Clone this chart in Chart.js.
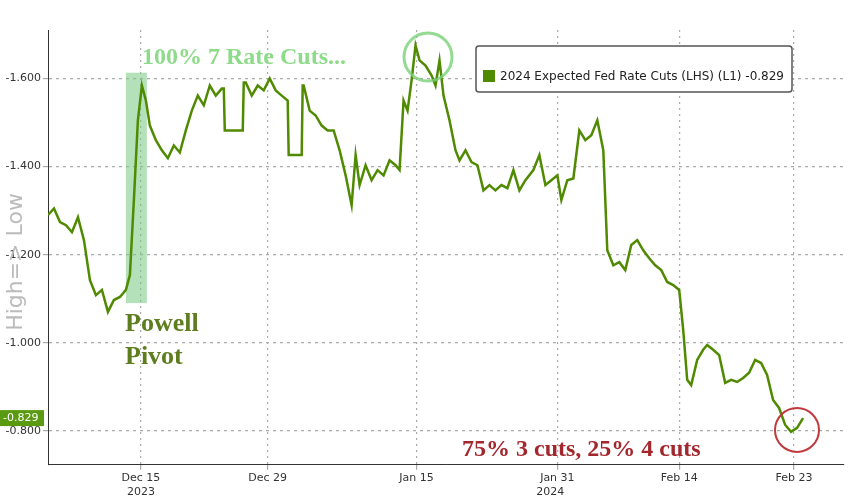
<!DOCTYPE html>
<html><head><meta charset="utf-8">
<script src="https://cdn.jsdelivr.net/npm/chart.js@4"></script>
<style>html,body{margin:0;padding:0;background:#fff}#w{width:848px;height:503px}</style>
</head><body><div id="w"><canvas id="c"></canvas></div>
<script>
// session index (trading-time axis) and expected cuts values
const sessions = [0,6,12,18,24,30,36,42,48,54,60,66,72,78,82,86,90,94,98,102,108,114,120,126,132,138,144,150,156,162,168,174,176,177,195,196,198,204,210,216,222,228,234,240,241,242,254,255,256,262,268,274,280,286,292,298,304,308,312,318,324,330,336,342,348,352,356,360,364,368,372,378,384,388,392,396,402,408,412,418,424,430,436,442,448,454,460,466,472,478,486,492,498,504,510,514,520,526,532,538,544,550,556,560,566,572,578,584,590,596,602,608,614,620,626,632,636,640,644,650,656,660,666,672,678,684,690,696,702,708,714,720,726,732,738,744,750,756];
const values = [-1.290,-1.305,-1.274,-1.267,-1.251,-1.285,-1.233,-1.142,-1.108,-1.120,-1.070,-1.097,-1.104,-1.120,-1.154,-1.324,-1.505,-1.584,-1.550,-1.493,-1.460,-1.437,-1.419,-1.448,-1.432,-1.482,-1.527,-1.561,-1.539,-1.584,-1.561,-1.577,-1.577,-1.482,-1.482,-1.591,-1.591,-1.561,-1.584,-1.573,-1.600,-1.573,-1.561,-1.550,-1.426,-1.426,-1.426,-1.584,-1.584,-1.527,-1.516,-1.493,-1.482,-1.482,-1.437,-1.380,-1.312,-1.426,-1.358,-1.403,-1.369,-1.392,-1.380,-1.414,-1.403,-1.392,-1.550,-1.527,-1.595,-1.675,-1.641,-1.629,-1.607,-1.584,-1.641,-1.561,-1.505,-1.437,-1.414,-1.437,-1.410,-1.403,-1.346,-1.358,-1.346,-1.358,-1.351,-1.392,-1.346,-1.369,-1.392,-1.426,-1.358,-1.369,-1.380,-1.324,-1.369,-1.373,-1.482,-1.460,-1.471,-1.505,-1.437,-1.210,-1.176,-1.183,-1.165,-1.222,-1.233,-1.210,-1.192,-1.176,-1.165,-1.138,-1.131,-1.120,-1.029,-0.916,-0.904,-0.961,-0.984,-0.995,-0.984,-0.972,-0.909,-0.916,-0.911,-0.920,-0.932,-0.961,-0.954,-0.927,-0.870,-0.852,-0.814,-0.798,-0.807,-0.829];
const xTickPos = [93,220,369,510,632,747];
const xTickLabels = ['Dec 15','Dec 29','Jan 15','Jan 31','Feb 14','Feb 23'];
const yTicks = [-1.6,-1.4,-1.2,-1.0,-0.8];
const seriesName = '2024 Expected Fed Rate Cuts (LHS) (L1) -0.829';
const lastValue = '-0.829';

const pts = sessions.map((s,i)=>({x:s,y:values[i]}));
const deco = {
  id:'deco',
  beforeDatasetsDraw(ch){
    const c=ch.ctx,x=ch.scales.x,y=ch.scales.y;
    c.save();
    c.fillStyle='rgba(120,200,130,0.55)';
    const x0=x.getPixelForValue(78),x1=x.getPixelForValue(99);
    c.fillRect(x0,y.getPixelForValue(-1.613),x1-x0,y.getPixelForValue(-1.09)-y.getPixelForValue(-1.613));
    c.restore();
  },
  afterDraw(ch){
    const c=ch.ctx,x=ch.scales.x,y=ch.scales.y;
    c.save();
    c.font='bold 24px "Liberation Serif"';c.fillStyle='#8edb8a';c.textBaseline='alphabetic';
    c.fillText('100% 7 Rate Cuts...',142,64);
    c.font='bold 26px "Liberation Serif"';c.fillStyle='#5e7d1f';
    c.fillText('Powell',125,331);c.fillText('Pivot',125,364);
    c.font='bold 24px "Liberation Serif"';c.fillStyle='#a3282e';
    c.fillText('75% 3 cuts, 25% 4 cuts',462,456);
    c.lineWidth=3;c.strokeStyle='rgba(120,210,120,0.8)';
    c.beginPath();c.arc(428,57,24,0,Math.PI*2);c.stroke();
    c.strokeStyle='#c0393d';c.lineWidth=2;
    c.beginPath();c.arc(797,430,22,0,Math.PI*2);c.stroke();
    c.fillStyle='#fff';c.strokeStyle='#555';c.lineWidth=1.5;
    c.beginPath();c.roundRect(476,46,316,46,3);c.fill();c.stroke();
    c.fillStyle='#4f8a00';c.fillRect(483,70,12,12);
    c.fillStyle='#222';c.font='12px "DejaVu Sans"';c.textBaseline='middle';
    c.fillText(seriesName,500,77);
    const ly=y.getPixelForValue(-0.829);
    c.fillStyle='#5a9a10';c.fillRect(0,ly-8,44,16);
    c.fillStyle='#fff';c.font='11px "DejaVu Sans"';c.fillText(lastValue,3,ly);
    c.translate(16,262);c.rotate(-Math.PI/2);c.fillStyle='#bbb';c.font='22px "DejaVu Sans"';c.textAlign='center';
    c.fillText('High=> Low',0,0);
    c.restore();
    c.save();c.font='11px "DejaVu Sans"';c.fillStyle='#333';c.textAlign='center';
    c.fillText('2023',x.getPixelForValue(93),495);c.fillText('2024',x.getPixelForValue(503),495);
    c.restore();
  }
};
new Chart(document.getElementById('c'),{
  type:'line',
  data:{datasets:[{data:pts,borderColor:'#4f8a00',borderWidth:2.5,pointRadius:0,tension:0}]},
  options:{responsive:true,maintainAspectRatio:false,animation:false,
    layout:{padding:{left:0,right:4,top:30,bottom:16}},
    plugins:{legend:{display:false},tooltip:{enabled:false}},
    scales:{
      x:{type:'linear',min:0,max:797,
        afterBuildTicks(s){s.ticks=xTickPos.map(v=>({value:v}));},
        ticks:{autoSkip:false,maxRotation:0,color:'#333',font:{size:11,family:'DejaVu Sans'},padding:2,
          callback:(v)=>{const i=xTickPos.indexOf(v);return i>=0?xTickLabels[i]:'';}},
        grid:{color:'#aaa',lineWidth:1.2,tickLength:5,drawOnChartArea:true},
        border:{display:true,color:'#333',width:1,dash:[2,4]}},
      y:{reverse:true,min:-1.71,max:-0.723,position:'left',
        afterBuildTicks(s){s.ticks=yTicks.map(v=>({value:v}));},
        afterFit(s){s.width=48;},
        ticks:{color:'#333',font:{size:11,family:'DejaVu Sans'},padding:2,
          callback:v=>v.toFixed(3)},
        grid:{color:'#aaa',lineWidth:1.2,tickLength:5},
        border:{display:true,color:'#333',width:1,dash:[3,4]}}
    }},
  plugins:[deco]
});
</script></body></html>
